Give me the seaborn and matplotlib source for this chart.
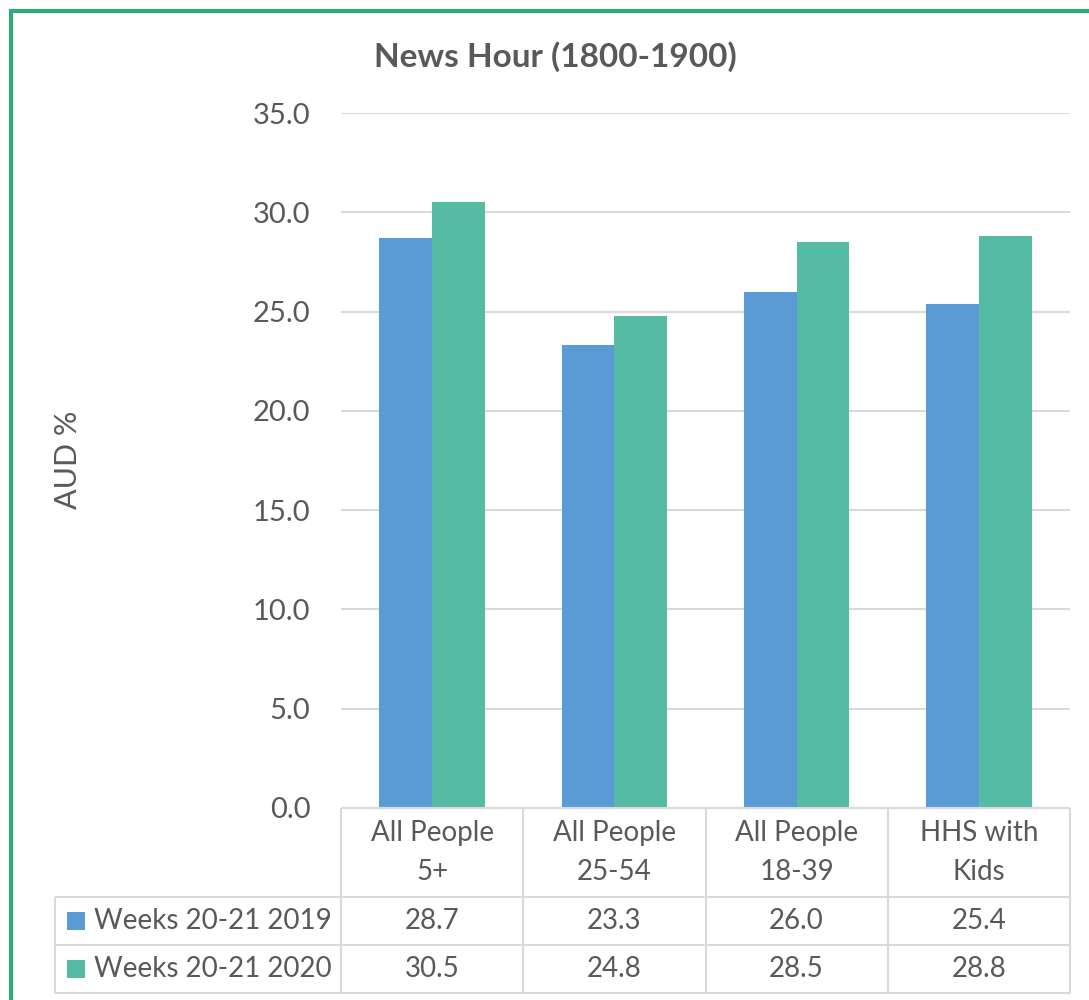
import numpy as np
import pandas as pd
import matplotlib
matplotlib.use("Agg")
import matplotlib.pyplot as plt
import matplotlib.transforms as mtransforms
from matplotlib.patches import Rectangle
import seaborn as sns

# chart data
categories = ["All People\n5+", "All People\n25-54", "All People\n18-39", "HHS with\nKids"]
series_names = ["Weeks 20-21 2019", "Weeks 20-21 2020"]
values_2019 = [28.7, 23.3, 26.0, 25.4]
values_2020 = [30.5, 24.8, 28.5, 28.8]
y_ticks = [0, 5, 10, 15, 20, 25, 30, 35]

colors = ["#5b9bd5", "#55bba5"]
text_color = "#595959"
grid_color = "#d9d9d9"

sns.set_theme(style="white")
plt.rcParams["font.family"] = ["Lato", "DejaVu Sans"]

df = pd.DataFrame({
    "category": categories * 2,
    "series": [series_names[0]] * 4 + [series_names[1]] * 4,
    "value": values_2019 + values_2020,
})

fig = plt.figure(figsize=(10.89, 10), dpi=100)
ax_h = 695  # axes height in px
ax_w = 729  # axes width in px
ax = fig.add_axes([341 / 1089, 0.192, ax_w / 1089, ax_h / 1000])

sns.barplot(data=df, x="category", y="value", hue="series", palette=colors,
            width=0.58, gap=0, saturation=1, legend=False, linewidth=0, ax=ax)

ax.set_ylim(0, 35)
ax.set_xlim(-0.5, 3.5)
ax.set_yticks(y_ticks)
ax.set_yticklabels([f"{v:.1f}" for v in y_ticks], fontsize=21, color=text_color)
ax.tick_params(axis="y", length=0, pad=22)
ax.set_xticks([])
ax.set_xlabel("")
ax.set_ylabel("")
for s in ax.spines.values():
    s.set_visible(False)
ax.yaxis.grid(True, color=grid_color, linewidth=1.5)
ax.set_axisbelow(True)

# data table under the plot (x in category units, y in axes units)
blend = mtransforms.blended_transform_factory(ax.transData, ax.transAxes)
row_edges = [0, -89 / ax_h, -137 / ax_h, -185 / ax_h]
left_edge = (55 - 341) / ax_w
line_kw = dict(color=grid_color, linewidth=1.5, clip_on=False, solid_capstyle="butt")
tfs = 20

ax.plot([0, 1], [0, 0], transform=ax.transAxes, **line_kw)
for y in row_edges[1:]:
    ax.plot([left_edge, 1], [y, y], transform=ax.transAxes, **line_kw)
ax.plot([left_edge, left_edge], [row_edges[1], row_edges[3]], transform=ax.transAxes, **line_kw)
for xb in np.arange(len(categories) + 1) - 0.5:
    ax.plot([xb, xb], [0, row_edges[3]], transform=blend, **line_kw)

for i, cat in enumerate(categories):
    ax.text(i, (row_edges[0] + row_edges[1]) / 2, cat, transform=blend, ha="center",
            va="center", fontsize=tfs, color=text_color, linespacing=1.6, clip_on=False)
    for r, vals in enumerate([values_2019, values_2020]):
        ax.text(i, (row_edges[r + 1] + row_edges[r + 2]) / 2, f"{vals[i]:.1f}", transform=blend,
                ha="center", va="center", fontsize=tfs, color=text_color, clip_on=False)

for r, name in enumerate(series_names):
    yc = (row_edges[r + 1] + row_edges[r + 2]) / 2
    ax.text((94 - 341) / ax_w, yc, name, transform=ax.transAxes, ha="left", va="center",
            fontsize=tfs, color=text_color, clip_on=False)
    ax.add_patch(Rectangle(((67 - 341) / ax_w, yc - 9 / ax_h), 18 / ax_w, 18 / ax_h,
                           transform=ax.transAxes, facecolor=colors[r], edgecolor="none",
                           clip_on=False))

fig.text(555 / 1089, 1 - 57 / 1000, "News Hour (1800-1900)", ha="center", va="center",
         fontsize=24, fontweight="bold", color=text_color)
fig.text(68 / 1089, 1 - 460 / 1000, "AUD %", rotation=90, ha="center", va="center",
         fontsize=22, color=text_color)

# outer chart border
fig.add_artist(Rectangle((11 / 1089, -0.1), 1.2, 1.089, transform=fig.transFigure,
                         fill=False, edgecolor="#33a97a", linewidth=3))

fig.savefig("out.png", dpi=100)
